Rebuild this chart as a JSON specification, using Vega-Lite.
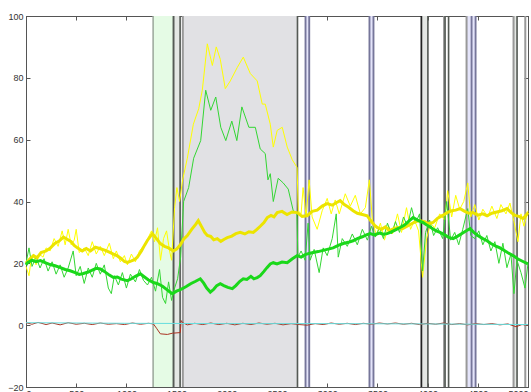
{
"$schema": "https://vega.github.io/schema/vega-lite/v6.json",
"width": 502, "height": 371,
"autosize": {"type": "none"},
"padding": {"left": 26, "top": 16, "right": 3, "bottom": 5},
"background": "white",
"config": {"view": {"stroke": "#555", "strokeWidth": 1}, "font": "Liberation Sans"},
"resolve": {"axis": {"x": "independent", "y": "independent"}},
"datasets": {
"fills": [
{"a":1266,"b":1465,"k":"green"},{"a":1471,"b":1535,"k":"light"},{"a":1562,"b":2704,"k":"gray"},
{"a":2784,"b":2821,"k":"blue"},{"a":3421,"b":3461,"k":"blue"},{"a":3938,"b":4003,"k":"light"},
{"a":4388,"b":4478,"k":"blue"},{"a":4856,"b":4891,"k":"light"}],
"rules": [
{"x":1266,"k":"g"},{"x":1465,"k":"g"},{"x":1471,"k":"d"},{"x":1535,"k":"d"},{"x":1562,"k":"m"},
{"x":2704,"k":"d"},{"x":2784,"k":"b"},{"x":2821,"k":"b"},{"x":3421,"k":"b"},{"x":3461,"k":"b"},
{"x":3938,"k":"k"},{"x":4003,"k":"d"},{"x":4164,"k":"m"},{"x":4174,"k":"d"},{"x":4209,"k":"d"},
{"x":4388,"k":"m"},{"x":4438,"k":"b"},{"x":4478,"k":"b"},{"x":4856,"k":"m"},{"x":4891,"k":"d"},{"x":4973,"k":"m"}],
"series": [
{"s":"c","x":0,"y":0.8},{"s":"c","x":1000,"y":0.6},{"s":"c","x":2000,"y":0.5},{"s":"c","x":3000,"y":0.5},{"s":"c","x":4000,"y":0.4},{"s":"c","x":5000,"y":0.2},

{"s":"r","x":0,"y":0.8},{"s":"r","x":60,"y":0.3},{"s":"r","x":120,"y":0.9},{"s":"r","x":200,"y":0.2},{"s":"r","x":260,"y":0.7},{"s":"r","x":340,"y":0.1},{"s":"r","x":420,"y":0.8},{"s":"r","x":500,"y":0.3},{"s":"r","x":580,"y":0.6},{"s":"r","x":660,"y":0.2},{"s":"r","x":740,"y":0.7},{"s":"r","x":820,"y":0.3},{"s":"r","x":900,"y":0.5},{"s":"r","x":980,"y":0.2},{"s":"r","x":1060,"y":0.7},{"s":"r","x":1140,"y":0.3},{"s":"r","x":1220,"y":0.6},{"s":"r","x":1269,"y":0.4},{"s":"r","x":1300,"y":-1.0},{"s":"r","x":1338,"y":-2.8},{"s":"r","x":1408,"y":-3.0},{"s":"r","x":1458,"y":-2.6},{"s":"r","x":1537,"y":-2.4},{"s":"r","x":1545,"y":1.5},{"s":"r","x":1560,"y":0.8},{"s":"r","x":1607,"y":0.1},{"s":"r","x":1680,"y":0.6},{"s":"r","x":1760,"y":0.2},{"s":"r","x":1840,"y":0.7},{"s":"r","x":1920,"y":0.2},{"s":"r","x":2000,"y":0.6},{"s":"r","x":2080,"y":0.1},{"s":"r","x":2160,"y":0.6},{"s":"r","x":2240,"y":0.2},{"s":"r","x":2320,"y":0.7},{"s":"r","x":2400,"y":0.3},{"s":"r","x":2480,"y":0.6},{"s":"r","x":2560,"y":0.1},{"s":"r","x":2640,"y":0.5},{"s":"r","x":2720,"y":0.2},{"s":"r","x":2800,"y":0.0},{"s":"r","x":2880,"y":0.5},{"s":"r","x":2960,"y":0.2},{"s":"r","x":3040,"y":0.7},{"s":"r","x":3120,"y":0.3},{"s":"r","x":3200,"y":0.6},{"s":"r","x":3280,"y":0.2},{"s":"r","x":3360,"y":0.6},{"s":"r","x":3440,"y":0.3},{"s":"r","x":3520,"y":0.7},{"s":"r","x":3600,"y":0.4},{"s":"r","x":3680,"y":0.7},{"s":"r","x":3760,"y":0.3},{"s":"r","x":3840,"y":0.6},{"s":"r","x":3920,"y":0.2},{"s":"r","x":4000,"y":0.6},{"s":"r","x":4080,"y":0.3},{"s":"r","x":4160,"y":0.7},{"s":"r","x":4240,"y":0.2},{"s":"r","x":4320,"y":0.5},{"s":"r","x":4400,"y":0.1},{"s":"r","x":4480,"y":0.5},{"s":"r","x":4560,"y":0.2},{"s":"r","x":4640,"y":0.5},{"s":"r","x":4720,"y":0.1},{"s":"r","x":4800,"y":0.4},{"s":"r","x":4880,"y":-0.5},{"s":"r","x":4940,"y":0.2},{"s":"r","x":5000,"y":0.0},

{"s":"Y","x":0,"y":20},{"s":"Y","x":40,"y":21.5},{"s":"Y","x":75,"y":22.5},{"s":"Y","x":110,"y":21.8},{"s":"Y","x":150,"y":23.5},{"s":"Y","x":200,"y":24},{"s":"Y","x":244,"y":25},{"s":"Y","x":290,"y":26.5},{"s":"Y","x":330,"y":27.2},{"s":"Y","x":373,"y":28.5},{"s":"Y","x":410,"y":27.8},{"s":"Y","x":450,"y":27},{"s":"Y","x":480,"y":25.8},{"s":"Y","x":512,"y":25},{"s":"Y","x":560,"y":24},{"s":"Y","x":600,"y":24.8},{"s":"Y","x":642,"y":24},{"s":"Y","x":690,"y":25.2},{"s":"Y","x":741,"y":24.7},{"s":"Y","x":790,"y":24.2},{"s":"Y","x":830,"y":23.6},{"s":"Y","x":871,"y":23},{"s":"Y","x":910,"y":22.4},{"s":"Y","x":950,"y":21.5},{"s":"Y","x":980,"y":20.6},{"s":"Y","x":1010,"y":20.3},{"s":"Y","x":1050,"y":20.8},{"s":"Y","x":1080,"y":21.2},{"s":"Y","x":1109,"y":22},{"s":"Y","x":1150,"y":24},{"s":"Y","x":1180,"y":25.8},{"s":"Y","x":1209,"y":27.4},{"s":"Y","x":1259,"y":29.6},{"s":"Y","x":1300,"y":28},{"s":"Y","x":1338,"y":26.4},{"s":"Y","x":1380,"y":25.5},{"s":"Y","x":1420,"y":25},{"s":"Y","x":1468,"y":24},{"s":"Y","x":1500,"y":24.6},{"s":"Y","x":1537,"y":26},{"s":"Y","x":1570,"y":27.8},{"s":"Y","x":1607,"y":29},{"s":"Y","x":1650,"y":31},{"s":"Y","x":1690,"y":32.6},{"s":"Y","x":1716,"y":33.8},{"s":"Y","x":1750,"y":31.8},{"s":"Y","x":1780,"y":30},{"s":"Y","x":1806,"y":29},{"s":"Y","x":1840,"y":28.7},{"s":"Y","x":1870,"y":27.6},{"s":"Y","x":1905,"y":28},{"s":"Y","x":1940,"y":27.1},{"s":"Y","x":1975,"y":27.8},{"s":"Y","x":2005,"y":28.3},{"s":"Y","x":2050,"y":28.8},{"s":"Y","x":2090,"y":29.6},{"s":"Y","x":2134,"y":30},{"s":"Y","x":2180,"y":29.5},{"s":"Y","x":2220,"y":30.2},{"s":"Y","x":2264,"y":30},{"s":"Y","x":2300,"y":31},{"s":"Y","x":2333,"y":32},{"s":"Y","x":2370,"y":33.2},{"s":"Y","x":2403,"y":34.8},{"s":"Y","x":2440,"y":35.5},{"s":"Y","x":2470,"y":35},{"s":"Y","x":2502,"y":36.4},{"s":"Y","x":2550,"y":36.8},{"s":"Y","x":2600,"y":35.8},{"s":"Y","x":2650,"y":36.6},{"s":"Y","x":2701,"y":36.4},{"s":"Y","x":2750,"y":35.2},{"s":"Y","x":2800,"y":35.4},{"s":"Y","x":2850,"y":36.8},{"s":"Y","x":2900,"y":37.2},{"s":"Y","x":2950,"y":38.5},{"s":"Y","x":2999,"y":39.3},{"s":"Y","x":3050,"y":38.8},{"s":"Y","x":3090,"y":39.6},{"s":"Y","x":3129,"y":40.3},{"s":"Y","x":3170,"y":39},{"s":"Y","x":3210,"y":38.2},{"s":"Y","x":3258,"y":37},{"s":"Y","x":3300,"y":36.2},{"s":"Y","x":3350,"y":35.8},{"s":"Y","x":3398,"y":35.4},{"s":"Y","x":3440,"y":33.5},{"s":"Y","x":3470,"y":32.4},{"s":"Y","x":3497,"y":31.6},{"s":"Y","x":3540,"y":31},{"s":"Y","x":3580,"y":31.8},{"s":"Y","x":3620,"y":30.6},{"s":"Y","x":3657,"y":31.1},{"s":"Y","x":3700,"y":31.6},{"s":"Y","x":3750,"y":31.2},{"s":"Y","x":3796,"y":32},{"s":"Y","x":3840,"y":32.8},{"s":"Y","x":3880,"y":33.5},{"s":"Y","x":3925,"y":33.8},{"s":"Y","x":3970,"y":33.5},{"s":"Y","x":4010,"y":32.8},{"s":"Y","x":4054,"y":33.2},{"s":"Y","x":4100,"y":34.6},{"s":"Y","x":4150,"y":35.5},{"s":"Y","x":4194,"y":36.4},{"s":"Y","x":4240,"y":37},{"s":"Y","x":4280,"y":37.2},{"s":"Y","x":4323,"y":37.7},{"s":"Y","x":4370,"y":36.8},{"s":"Y","x":4410,"y":36.2},{"s":"Y","x":4452,"y":36.4},{"s":"Y","x":4500,"y":35.6},{"s":"Y","x":4550,"y":36},{"s":"Y","x":4592,"y":35.4},{"s":"Y","x":4640,"y":36.2},{"s":"Y","x":4690,"y":36.6},{"s":"Y","x":4740,"y":37},{"s":"Y","x":4791,"y":37.7},{"s":"Y","x":4830,"y":36.5},{"s":"Y","x":4870,"y":35.5},{"s":"Y","x":4910,"y":35.2},{"s":"Y","x":4950,"y":34.5},{"s":"Y","x":4980,"y":35.5},{"s":"Y","x":5000,"y":36.4},

{"s":"y","x":0,"y":19},{"s":"y","x":30,"y":16},{"s":"y","x":50,"y":21},{"s":"y","x":75,"y":23},{"s":"y","x":100,"y":19.5},{"s":"y","x":130,"y":23},{"s":"y","x":170,"y":22},{"s":"y","x":200,"y":25},{"s":"y","x":240,"y":24},{"s":"y","x":280,"y":28},{"s":"y","x":320,"y":25.5},{"s":"y","x":360,"y":30.5},{"s":"y","x":390,"y":26},{"s":"y","x":420,"y":31},{"s":"y","x":450,"y":26},{"s":"y","x":480,"y":27.5},{"s":"y","x":500,"y":31},{"s":"y","x":530,"y":23.5},{"s":"y","x":580,"y":25},{"s":"y","x":620,"y":22.5},{"s":"y","x":660,"y":27},{"s":"y","x":700,"y":23},{"s":"y","x":740,"y":25.5},{"s":"y","x":780,"y":22.5},{"s":"y","x":830,"y":26.5},{"s":"y","x":870,"y":21.5},{"s":"y","x":900,"y":24},{"s":"y","x":940,"y":20.5},{"s":"y","x":980,"y":22.5},{"s":"y","x":1010,"y":19.5},{"s":"y","x":1050,"y":23},{"s":"y","x":1090,"y":20.5},{"s":"y","x":1130,"y":24},{"s":"y","x":1180,"y":26},{"s":"y","x":1220,"y":28.5},{"s":"y","x":1250,"y":30.5},{"s":"y","x":1280,"y":27},{"s":"y","x":1310,"y":31.5},{"s":"y","x":1340,"y":21},{"s":"y","x":1370,"y":28},{"s":"y","x":1400,"y":30.5},{"s":"y","x":1430,"y":24},{"s":"y","x":1450,"y":21},{"s":"y","x":1480,"y":38},{"s":"y","x":1503,"y":44.5},{"s":"y","x":1530,"y":40},{"s":"y","x":1560,"y":47},{"s":"y","x":1607,"y":54},{"s":"y","x":1667,"y":65},{"s":"y","x":1720,"y":70},{"s":"y","x":1756,"y":76},{"s":"y","x":1806,"y":91},{"s":"y","x":1856,"y":84},{"s":"y","x":1895,"y":90},{"s":"y","x":1935,"y":86},{"s":"y","x":1985,"y":76.5},{"s":"y","x":2035,"y":79},{"s":"y","x":2105,"y":83.4},{"s":"y","x":2164,"y":86.7},{"s":"y","x":2234,"y":81.4},{"s":"y","x":2303,"y":79},{"s":"y","x":2353,"y":71.5},{"s":"y","x":2383,"y":71.5},{"s":"y","x":2433,"y":65},{"s":"y","x":2463,"y":57.6},{"s":"y","x":2502,"y":63},{"s":"y","x":2552,"y":64},{"s":"y","x":2602,"y":57.6},{"s":"y","x":2652,"y":53.5},{"s":"y","x":2700,"y":51},{"s":"y","x":2712,"y":37},{"s":"y","x":2740,"y":36},{"s":"y","x":2760,"y":44.5},{"s":"y","x":2790,"y":35},{"s":"y","x":2820,"y":47},{"s":"y","x":2850,"y":35},{"s":"y","x":2900,"y":31},{"s":"y","x":2950,"y":37},{"s":"y","x":3000,"y":41},{"s":"y","x":3040,"y":36},{"s":"y","x":3080,"y":40.5},{"s":"y","x":3120,"y":36},{"s":"y","x":3180,"y":42.5},{"s":"y","x":3230,"y":38.5},{"s":"y","x":3280,"y":42},{"s":"y","x":3330,"y":36},{"s":"y","x":3380,"y":38},{"s":"y","x":3420,"y":47},{"s":"y","x":3450,"y":34},{"s":"y","x":3490,"y":29},{"s":"y","x":3530,"y":33},{"s":"y","x":3570,"y":27.5},{"s":"y","x":3610,"y":32},{"s":"y","x":3650,"y":29.5},{"s":"y","x":3700,"y":36},{"s":"y","x":3740,"y":30},{"s":"y","x":3790,"y":38},{"s":"y","x":3830,"y":31},{"s":"y","x":3870,"y":34},{"s":"y","x":3910,"y":30.5},{"s":"y","x":3950,"y":15.5},{"s":"y","x":3990,"y":28},{"s":"y","x":4030,"y":33},{"s":"y","x":4070,"y":31.5},{"s":"y","x":4120,"y":36},{"s":"y","x":4170,"y":34},{"s":"y","x":4200,"y":43.5},{"s":"y","x":4240,"y":35},{"s":"y","x":4280,"y":42},{"s":"y","x":4320,"y":37.5},{"s":"y","x":4360,"y":40},{"s":"y","x":4400,"y":46},{"s":"y","x":4430,"y":35},{"s":"y","x":4470,"y":39},{"s":"y","x":4510,"y":34},{"s":"y","x":4550,"y":37.5},{"s":"y","x":4600,"y":35},{"s":"y","x":4640,"y":38.5},{"s":"y","x":4690,"y":34.5},{"s":"y","x":4730,"y":39},{"s":"y","x":4780,"y":36},{"s":"y","x":4820,"y":39.5},{"s":"y","x":4860,"y":33.5},{"s":"y","x":4900,"y":27},{"s":"y","x":4930,"y":36},{"s":"y","x":4960,"y":32},{"s":"y","x":5000,"y":37},

{"s":"G","x":0,"y":19.5},{"s":"G","x":15,"y":20.2},{"s":"G","x":60,"y":21},{"s":"G","x":100,"y":20.5},{"s":"G","x":144,"y":20.9},{"s":"G","x":190,"y":20.2},{"s":"G","x":240,"y":19.6},{"s":"G","x":290,"y":19.2},{"s":"G","x":343,"y":18.6},{"s":"G","x":390,"y":18},{"s":"G","x":440,"y":17.6},{"s":"G","x":490,"y":17},{"s":"G","x":530,"y":16.4},{"s":"G","x":572,"y":16.7},{"s":"G","x":620,"y":17.2},{"s":"G","x":660,"y":17.8},{"s":"G","x":700,"y":18.4},{"s":"G","x":741,"y":18.2},{"s":"G","x":780,"y":17.4},{"s":"G","x":830,"y":16.2},{"s":"G","x":871,"y":15.4},{"s":"G","x":910,"y":15.6},{"s":"G","x":950,"y":14.9},{"s":"G","x":1010,"y":14.4},{"s":"G","x":1050,"y":15},{"s":"G","x":1090,"y":15.8},{"s":"G","x":1139,"y":16.6},{"s":"G","x":1180,"y":15.6},{"s":"G","x":1220,"y":14.6},{"s":"G","x":1269,"y":13.8},{"s":"G","x":1310,"y":13.4},{"s":"G","x":1360,"y":12.6},{"s":"G","x":1400,"y":11.6},{"s":"G","x":1430,"y":10.8},{"s":"G","x":1458,"y":10.2},{"s":"G","x":1500,"y":11},{"s":"G","x":1530,"y":11.4},{"s":"G","x":1557,"y":11.8},{"s":"G","x":1600,"y":12.6},{"s":"G","x":1640,"y":13.4},{"s":"G","x":1690,"y":14.2},{"s":"G","x":1736,"y":15},{"s":"G","x":1770,"y":13.6},{"s":"G","x":1800,"y":12},{"s":"G","x":1836,"y":10.7},{"s":"G","x":1870,"y":11.6},{"s":"G","x":1900,"y":12.8},{"s":"G","x":1935,"y":13.4},{"s":"G","x":1970,"y":12.8},{"s":"G","x":2010,"y":12.2},{"s":"G","x":2055,"y":11.8},{"s":"G","x":2090,"y":12.8},{"s":"G","x":2130,"y":14.2},{"s":"G","x":2164,"y":15},{"s":"G","x":2200,"y":14.8},{"s":"G","x":2240,"y":15.8},{"s":"G","x":2270,"y":15},{"s":"G","x":2303,"y":15.4},{"s":"G","x":2333,"y":16},{"s":"G","x":2370,"y":17.4},{"s":"G","x":2400,"y":18.6},{"s":"G","x":2433,"y":19.8},{"s":"G","x":2463,"y":20.2},{"s":"G","x":2500,"y":19.8},{"s":"G","x":2550,"y":20.4},{"s":"G","x":2602,"y":20.2},{"s":"G","x":2650,"y":21.4},{"s":"G","x":2701,"y":22.5},{"s":"G","x":2740,"y":22},{"s":"G","x":2780,"y":22.8},{"s":"G","x":2820,"y":23.2},{"s":"G","x":2860,"y":23.5},{"s":"G","x":2910,"y":23.8},{"s":"G","x":2960,"y":24.2},{"s":"G","x":3010,"y":24.6},{"s":"G","x":3059,"y":25},{"s":"G","x":3110,"y":25.8},{"s":"G","x":3160,"y":26.4},{"s":"G","x":3210,"y":26.8},{"s":"G","x":3258,"y":27.3},{"s":"G","x":3300,"y":28},{"s":"G","x":3350,"y":28.6},{"s":"G","x":3390,"y":29.2},{"s":"G","x":3428,"y":29.6},{"s":"G","x":3470,"y":29.2},{"s":"G","x":3520,"y":29.8},{"s":"G","x":3560,"y":29.4},{"s":"G","x":3597,"y":29.6},{"s":"G","x":3640,"y":30.2},{"s":"G","x":3690,"y":31},{"s":"G","x":3726,"y":31.6},{"s":"G","x":3770,"y":32.4},{"s":"G","x":3810,"y":33.6},{"s":"G","x":3855,"y":34.8},{"s":"G","x":3900,"y":34},{"s":"G","x":3955,"y":33.2},{"s":"G","x":4000,"y":32.2},{"s":"G","x":4040,"y":31.4},{"s":"G","x":4080,"y":30.6},{"s":"G","x":4124,"y":30},{"s":"G","x":4170,"y":29.2},{"s":"G","x":4210,"y":28.4},{"s":"G","x":4254,"y":28},{"s":"G","x":4300,"y":28.8},{"s":"G","x":4350,"y":29.8},{"s":"G","x":4390,"y":30.6},{"s":"G","x":4423,"y":31.2},{"s":"G","x":4460,"y":30},{"s":"G","x":4500,"y":29},{"s":"G","x":4550,"y":28},{"s":"G","x":4592,"y":27.3},{"s":"G","x":4630,"y":26.4},{"s":"G","x":4680,"y":25.6},{"s":"G","x":4721,"y":25},{"s":"G","x":4760,"y":24.2},{"s":"G","x":4800,"y":23.4},{"s":"G","x":4851,"y":22.5},{"s":"G","x":4900,"y":21.4},{"s":"G","x":4950,"y":20.6},{"s":"G","x":5000,"y":19.8},

{"s":"g","x":0,"y":20},{"s":"g","x":30,"y":25},{"s":"g","x":60,"y":19},{"s":"g","x":100,"y":22},{"s":"g","x":140,"y":18.5},{"s":"g","x":180,"y":21.5},{"s":"g","x":220,"y":17.5},{"s":"g","x":260,"y":20.5},{"s":"g","x":300,"y":16.5},{"s":"g","x":340,"y":19.5},{"s":"g","x":380,"y":15.5},{"s":"g","x":420,"y":18.5},{"s":"g","x":470,"y":24},{"s":"g","x":500,"y":16},{"s":"g","x":540,"y":19},{"s":"g","x":580,"y":13.5},{"s":"g","x":620,"y":18.5},{"s":"g","x":660,"y":15.5},{"s":"g","x":700,"y":20},{"s":"g","x":740,"y":16.5},{"s":"g","x":780,"y":19.5},{"s":"g","x":820,"y":12},{"s":"g","x":850,"y":10.2},{"s":"g","x":880,"y":16},{"s":"g","x":920,"y":13},{"s":"g","x":960,"y":17},{"s":"g","x":1000,"y":12},{"s":"g","x":1040,"y":16.5},{"s":"g","x":1090,"y":14},{"s":"g","x":1130,"y":18},{"s":"g","x":1170,"y":14.5},{"s":"g","x":1210,"y":13},{"s":"g","x":1250,"y":15.5},{"s":"g","x":1290,"y":11},{"s":"g","x":1330,"y":18},{"s":"g","x":1360,"y":9},{"s":"g","x":1390,"y":7},{"s":"g","x":1420,"y":14},{"s":"g","x":1450,"y":8},{"s":"g","x":1480,"y":12},{"s":"g","x":1510,"y":15},{"s":"g","x":1540,"y":22},{"s":"g","x":1570,"y":40},{"s":"g","x":1620,"y":44.5},{"s":"g","x":1670,"y":54},{"s":"g","x":1740,"y":59.7},{"s":"g","x":1790,"y":76},{"s":"g","x":1840,"y":69.5},{"s":"g","x":1890,"y":73.8},{"s":"g","x":1940,"y":64},{"s":"g","x":1990,"y":59.7},{"s":"g","x":2050,"y":66},{"s":"g","x":2100,"y":59.7},{"s":"g","x":2150,"y":70.6},{"s":"g","x":2220,"y":64},{"s":"g","x":2284,"y":64},{"s":"g","x":2333,"y":57},{"s":"g","x":2383,"y":55.5},{"s":"g","x":2410,"y":47},{"s":"g","x":2433,"y":49},{"s":"g","x":2463,"y":40},{"s":"g","x":2512,"y":47.5},{"s":"g","x":2562,"y":46},{"s":"g","x":2612,"y":44},{"s":"g","x":2662,"y":37},{"s":"g","x":2698,"y":36.4},{"s":"g","x":2708,"y":22},{"s":"g","x":2740,"y":24},{"s":"g","x":2780,"y":21},{"s":"g","x":2810,"y":33},{"s":"g","x":2830,"y":21},{"s":"g","x":2870,"y":24.5},{"s":"g","x":2920,"y":17},{"s":"g","x":2960,"y":25},{"s":"g","x":3000,"y":22.5},{"s":"g","x":3050,"y":28},{"s":"g","x":3090,"y":36},{"s":"g","x":3110,"y":22},{"s":"g","x":3150,"y":28},{"s":"g","x":3200,"y":25.5},{"s":"g","x":3250,"y":29.5},{"s":"g","x":3300,"y":26},{"s":"g","x":3350,"y":31},{"s":"g","x":3400,"y":27.5},{"s":"g","x":3440,"y":32},{"s":"g","x":3480,"y":28.5},{"s":"g","x":3520,"y":31.5},{"s":"g","x":3560,"y":28},{"s":"g","x":3600,"y":33},{"s":"g","x":3640,"y":29.5},{"s":"g","x":3680,"y":33.5},{"s":"g","x":3720,"y":30},{"s":"g","x":3760,"y":35},{"s":"g","x":3800,"y":32},{"s":"g","x":3840,"y":38},{"s":"g","x":3880,"y":33},{"s":"g","x":3920,"y":36},{"s":"g","x":3950,"y":17.6},{"s":"g","x":3980,"y":30},{"s":"g","x":4020,"y":34},{"s":"g","x":4060,"y":29},{"s":"g","x":4100,"y":31.5},{"s":"g","x":4150,"y":28},{"s":"g","x":4190,"y":40},{"s":"g","x":4230,"y":27.5},{"s":"g","x":4270,"y":30},{"s":"g","x":4310,"y":26},{"s":"g","x":4350,"y":31},{"s":"g","x":4400,"y":37.7},{"s":"g","x":4430,"y":29},{"s":"g","x":4470,"y":28},{"s":"g","x":4510,"y":30.5},{"s":"g","x":4550,"y":26},{"s":"g","x":4590,"y":29},{"s":"g","x":4630,"y":24},{"s":"g","x":4670,"y":27},{"s":"g","x":4710,"y":20},{"s":"g","x":4750,"y":26.5},{"s":"g","x":4790,"y":18.6},{"s":"g","x":4830,"y":23},{"s":"g","x":4860,"y":10.2},{"s":"g","x":4890,"y":21},{"s":"g","x":4930,"y":17},{"s":"g","x":4970,"y":12},{"s":"g","x":5000,"y":20}
]},
"layer": [
{"data": {"name": "fills"}, "mark": {"type": "rect"},
 "encoding": {"x": {"field": "a", "type": "quantitative", "scale": {"domain": [0, 5000], "nice": false, "zero": false},
   "axis": {"orient": "bottom", "values": [0,500,1000,1500,2000,2500,3000,3500,4000,4500,5000], "format": "d", "grid": false, "title": null, "tickSize": -4, "labelPadding": 6, "labelFontSize": 9, "labelColor": "#333", "domainColor": "#555", "tickColor": "#555"}},
  "x2": {"field": "b"},
  "color": {"field": "k", "type": "nominal", "scale": {"domain": ["green","light","gray","blue"], "range": ["#e5fbe5","#e4e7e4","#e1e1e4","#e4e4fa"]}, "legend": null}}},
{"data": {"name": "rules"}, "mark": {"type": "rule"},
 "encoding": {"x": {"field": "x", "type": "quantitative", "axis": {"orient": "top", "values": [0,500,1000,1500,2000,2500,3000,3500,4000,4500,5000], "labels": false, "grid": false, "title": null, "tickSize": -4, "domainColor": "#555", "tickColor": "#555"}},
  "stroke": {"field": "k", "type": "nominal", "scale": {"domain": ["g","d","k","b","m"], "range": ["#9aa59a","#555a55","#222222","#76769a","#999999"]}, "legend": null},
  "strokeWidth": {"field": "k", "type": "nominal", "scale": {"domain": ["g","d","k","b","m"], "range": [1.5, 2, 1, 1.5, 1.5]}, "legend": null}}},
{"data": {"name": "series"}, "transform": [{"filter": "datum.s == 'y'"}], "mark": {"type": "line", "color": "#ffff00", "strokeWidth": 1},
 "encoding": {"x": {"field": "x", "type": "quantitative", "axis": null}, "y": {"field": "y", "type": "quantitative", "scale": {"domain": [-20, 100], "nice": false, "zero": false},
   "axis": {"orient": "left", "values": [-20,0,20,40,60,80,100], "grid": false, "title": null, "tickSize": -4, "labelPadding": 7, "labelFontSize": 9, "labelColor": "#333", "domainColor": "#555", "tickColor": "#555"}}}},
{"data": {"name": "series"}, "transform": [{"filter": "datum.s == 'g'"}], "mark": {"type": "line", "color": "#33d633", "strokeWidth": 1},
 "encoding": {"x": {"field": "x", "type": "quantitative", "axis": null}, "y": {"field": "y", "type": "quantitative",
   "axis": {"orient": "right", "values": [-20,0,20,40,60,80,100], "labels": false, "grid": false, "title": null, "tickSize": -4, "domainColor": "#555", "tickColor": "#555"}}}},
{"data": {"name": "series"}, "transform": [{"filter": "datum.s == 'Y'"}], "mark": {"type": "line", "color": "#ece400", "strokeWidth": 3},
 "encoding": {"x": {"field": "x", "type": "quantitative", "axis": null}, "y": {"field": "y", "type": "quantitative", "axis": null}}},
{"data": {"name": "series"}, "transform": [{"filter": "datum.s == 'G'"}], "mark": {"type": "line", "color": "#1ad81a", "strokeWidth": 3},
 "encoding": {"x": {"field": "x", "type": "quantitative", "axis": null}, "y": {"field": "y", "type": "quantitative", "axis": null}}},
{"data": {"name": "series"}, "transform": [{"filter": "datum.s == 'r'"}], "mark": {"type": "line", "color": "#aa3322", "strokeWidth": 1},
 "encoding": {"x": {"field": "x", "type": "quantitative", "axis": null}, "y": {"field": "y", "type": "quantitative", "axis": null}}},
{"data": {"name": "series"}, "transform": [{"filter": "datum.s == 'c'"}], "mark": {"type": "line", "color": "#66dede", "strokeWidth": 1},
 "encoding": {"x": {"field": "x", "type": "quantitative", "axis": null}, "y": {"field": "y", "type": "quantitative", "axis": null}}}
]
}
